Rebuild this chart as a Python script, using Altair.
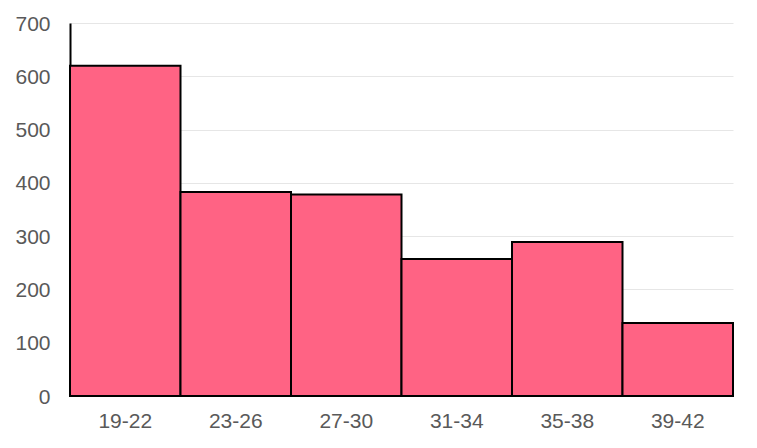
import pandas as pd
import altair as alt

# ── Data ───────────────────────────────────────────────────────────────────────

AGE_GROUPS = ['19-22', '23-26', '27-30', '31-34', '35-38', '39-42']
COUNTS = [620, 383, 378, 257, 289, 137]

df = pd.DataFrame({'age': AGE_GROUPS, 'count': COUNTS})

# ── Chart ──────────────────────────────────────────────────────────────────────

bars = alt.Chart(df).mark_bar(
    color='#FF6384', stroke='black', strokeWidth=2, strokeJoin='miter'
).encode(
    x=alt.X(
        'age:N', sort=AGE_GROUPS, title=None,
        scale=alt.Scale(paddingInner=0, paddingOuter=0),
        axis=alt.Axis(labelAngle=0, domain=False, ticks=False, labelPadding=14),
    ),
    y=alt.Y(
        'count:Q', title=None,
        scale=alt.Scale(domain=[0, 700], nice=False),
        axis=alt.Axis(
            values=[0, 100, 200, 300, 400, 500, 600, 700],
            ticks=False, domainColor='black', domainWidth=2,
            gridColor='#e6e6e6', gridWidth=1, labelPadding=20, labelOffset=1,
        ),
    ),
)

chart = (
    bars
    .properties(
        width=663, height=373,
        autosize=alt.AutoSizeParams(type='none'),
        padding={'left': 62, 'top': 15, 'right': 16, 'bottom': 40},
    )
    .configure_axis(
        labelFont='Liberation Sans', labelFontSize=21, labelColor='#595959',
    )
    .configure_view(stroke=None)
)

chart.save('out.html', embed_options={'renderer': 'svg', 'actions': False})
